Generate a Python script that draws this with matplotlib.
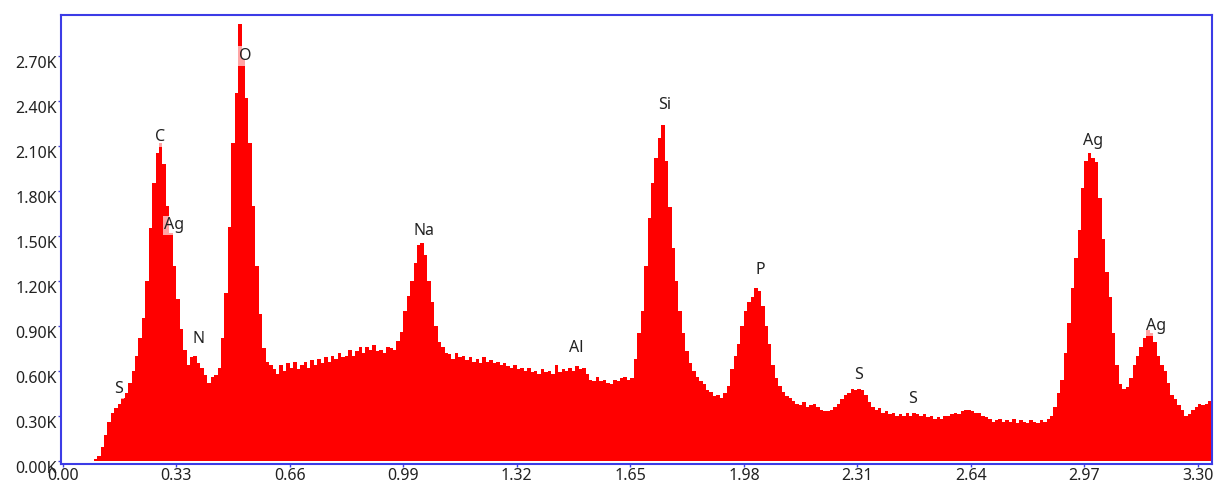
import numpy as np
from matplotlib import pyplot as plt

# EDS spectrum, counts per 0.01 keV channel starting at 0.00 keV
E_START = 0.0
E_STEP = 0.01

counts_low = [
    0, 0, 0, 0, 0, 0, 0, 0, 0, 10,
    30, 90, 170, 260, 320, 350, 380, 420, 450, 520,
    600, 700, 820, 950, 1200, 1550, 1850, 2050, 2120, 1980,
    1700, 1520, 1300, 1080, 880, 740, 640, 690, 700, 650,
    620, 570, 520, 560, 570, 620, 820, 1120, 1560, 2120,
    2450, 2910, 2680, 2420, 2120, 1700, 1300, 980, 750, 660,
    640, 610, 580, 640, 600, 650, 620, 660, 610, 640,
    660, 620, 670, 640, 680, 650, 690, 660, 700, 680,
    720, 690, 700, 740, 700, 730, 760, 720, 760, 740,
    770, 730, 740, 720, 760, 750, 740, 800, 860, 1000,
]
counts_mid = [
    1100, 1200, 1320, 1440, 1450, 1370, 1200, 1060, 900, 790,
    760, 720, 710, 680, 720, 690, 700, 670, 690, 660,
    680, 650, 690, 660, 670, 650, 660, 640, 650, 630,
    620, 640, 610, 620, 600, 620, 590, 600, 580, 610,
    590, 600, 580, 640, 590, 610, 600, 620, 600, 630,
    610, 620, 580, 540, 530, 560, 530, 540, 520, 510,
    540, 530, 550, 560, 540, 550, 680, 850, 1000, 1300,
    1620, 1850, 2020, 2150, 2240, 2000, 1690, 1420, 1200, 1000,
    850, 730, 650, 600, 560, 530, 510, 470, 460, 430,
    440, 420, 450, 500, 610, 700, 780, 900, 1000, 1060,
]
counts_high = [
    1090, 1150, 1130, 1030, 900, 780, 640, 550, 500, 460,
    430, 420, 400, 380, 370, 390, 360, 370, 380, 360,
    340, 330, 330, 340, 360, 380, 410, 440, 450, 480,
    470, 480, 470, 440, 390, 360, 340, 350, 320, 330,
    310, 320, 300, 310, 300, 320, 300, 320, 310, 300,
    310, 290, 300, 280, 290, 280, 300, 300, 310, 320,
    310, 330, 340, 340, 330, 320, 320, 300, 290, 280,
    260, 270, 280, 260, 270, 260, 280, 250, 270, 260,
    250, 270, 260, 250, 270, 260, 280, 300, 360, 450,
    540, 720, 920, 1150, 1350, 1540, 1820, 2000, 2050, 2020,
    1990, 1750, 1480, 1260, 1090, 850, 640, 510, 480, 490,
    550, 640, 700, 760, 820, 870, 850, 790, 700, 640,
    600, 520, 440, 410, 370, 340, 300, 310, 340, 360,
    380, 370, 380, 400, 420,
]

# peak labels: element, energy (keV), label height (counts)
peak_names = ['S', 'C', 'Ag', 'N', 'O', 'Na', 'Al', 'Si', 'P', 'S', 'S', 'Ag', 'Ag']
peak_energy = [0.162, 0.282, 0.325, 0.395, 0.532, 1.049, 1.494, 1.749, 2.028, 2.313, 2.470, 2.994, 3.177]
peak_height = [480, 2160, 1570, 810, 2700, 1530, 750, 2370, 1270, 570, 410, 2130, 900]

x_ticks = [0.00, 0.33, 0.66, 0.99, 1.32, 1.65, 1.98, 2.31, 2.64, 2.97, 3.30]
y_ticks = [0, 300, 600, 900, 1200, 1500, 1800, 2100, 2400, 2700]

counts = np.array(counts_low + counts_mid + counts_high)
edges = E_START + E_STEP * np.arange(len(counts) + 1)

plt.rcParams['font.family'] = ['Noto Sans', 'DejaVu Sans']

fig = plt.figure(figsize=(12.15, 4.91), dpi=100)
ax = fig.add_axes([0.0502, 0.0544, 0.9471, 0.9144])

ax.stairs(counts, edges, fill=True, color='#ff0000', linewidth=0)

for name, e, h in zip(peak_names, peak_energy, peak_height):
    ax.text(e, h, name, fontsize=11.5, ha='center', va='center', color='#222222',
            bbox=dict(boxstyle='square,pad=0.1', facecolor='white', edgecolor='none', alpha=0.65))

ax.set_xlim(-0.005, 3.34)
ax.set_ylim(-22, 2971)

ax.set_xticks(x_ticks)
ax.set_xticklabels([f'{t:.2f}' for t in x_ticks])
ax.set_yticks(y_ticks)
ax.set_yticklabels([f'{t / 1000:.2f}K' for t in y_ticks])
for lab in ax.get_yticklabels():
    lab.set_verticalalignment('top')

ax.tick_params(axis='both', length=2, width=1, color='#4040e0', labelsize=11.5, labelcolor='#222222')
ax.tick_params(axis='y', pad=1)
ax.tick_params(axis='x', pad=1)

for sp in ax.spines.values():
    sp.set_color('#3c3ce6')
    sp.set_linewidth(1.5)

fig.savefig('out.png', dpi=100)
